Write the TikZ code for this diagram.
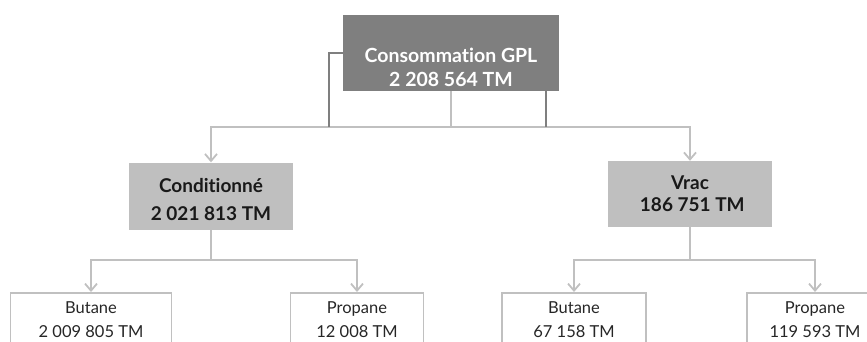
\documentclass[tikz,border=0pt]{standalone}
\usepackage{fontspec}
\setmainfont{Lato}[Ligatures={NoCommon}]
\usepackage{tikz}
\usetikzlibrary{arrows.meta}
\definecolor{boxdark}{HTML}{7F7F7F}
\definecolor{boxlight}{HTML}{BFBFBF}
\definecolor{linegray}{HTML}{C0C0C0}

\begin{document}
\begin{tikzpicture}[
    x=1pt, y=-1pt,
    total/.style={fill=boxdark, text=white, minimum width=216pt, minimum height=76pt,
                  font=\bfseries\fontsize{19.5}{24}\selectfont, align=center, inner sep=0pt},
    branch/.style={fill=boxlight, text=black!90, minimum width=164pt, minimum height=67pt,
                   font=\bfseries\fontsize{19}{28}\selectfont, align=center, inner sep=0pt},
    leaf/.style={draw=linegray, line width=1.8pt, anchor=north, align=center,
                 font=\fontsize{16.5}{24}\selectfont, text=black!85,
                 inner xsep=0pt, inner ysep=9pt, text depth=40pt},
    conn/.style={draw=linegray, line width=1.8pt},
    darkconn/.style={draw=boxdark, line width=1.8pt},
    arrow/.style={conn, -{Straight Barb[length=7pt, width=12pt, line width=1.8pt]}},
]
\useasboundingbox (0,0) rectangle (867,341);
\clip (0,0) rectangle (867,341);

% Total consumption
\node[total, text height=68pt] (gpl) at (451,53) {Consommation GPL\\2 208 564 TM};

% Packed and bulk
\node[branch, text height=50pt] (cond) at (211,196) {Conditionné\\2 021 813 TM};
\node[branch, font=\bfseries\fontsize{19}{22}\selectfont, minimum height=66pt] (vrac) at (690,194) {Vrac\\\ 186 751 TM};

% Products
\node[leaf, minimum width=161pt] (condbut) at (91,292) {Butane\\2 009 805 TM};
\node[leaf, minimum width=133pt] (condprop) at (357,292) {Propane\\12 008 TM};
\node[leaf, minimum width=144pt] (vracbut) at (574,292) {Butane\\67 158 TM};
\node[leaf, minimum width=136pt] (vracprop) at (815,292) {Propane\\119 593 TM};

% Split points
\coordinate (gplsplit) at (451,127);
\coordinate (gplleft) at (329,127);
\coordinate (gplright) at (546,127);
\coordinate (condsplit) at (211,260);
\coordinate (vracsplit) at (690,260);

% Level 1
\draw[conn] (gpl.south) -- (gplsplit);
\draw[arrow] (gplsplit) -| (cond.north);
\draw[arrow] (gplsplit) -| (vrac.north);
\draw[darkconn] (gpl.west) -| (gplleft);
\draw[darkconn] (gplright |- gpl.south) -- (gplright);

% Level 2
\draw[conn] (cond.south) -- (condsplit);
\draw[arrow] (condsplit) -| (condbut.north);
\draw[arrow] (condsplit) -| (condprop.north);
\draw[conn] (vrac.south) -- (vracsplit);
\draw[arrow] (vracsplit) -| (vracbut.north);
\draw[arrow] (vracsplit) -| (vracprop.north);

\end{tikzpicture}
\end{document}
